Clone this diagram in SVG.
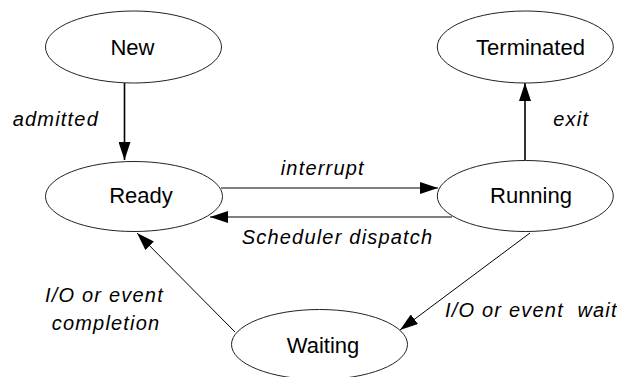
<svg xmlns="http://www.w3.org/2000/svg" width="617" height="377" viewBox="0 0 617 377">
<defs>
<style>
.node ellipse{fill:#fff;stroke:#222;stroke-width:1}
.node text{font-family:"Liberation Sans",Arial,sans-serif;font-size:22px;fill:#000;text-anchor:middle}
.edge{stroke:#000;fill:none;stroke-width:1}
.thick{stroke-width:1.6}
.lbl{font-family:"Liberation Sans",Arial,sans-serif;font-size:20px;font-style:italic;letter-spacing:1.2px;fill:#000}
</style>
<marker id="arr" markerUnits="userSpaceOnUse" markerWidth="18" markerHeight="12" refX="18" refY="6" orient="auto">
<path d="M0,0 L18,6 L0,12 z" fill="#000"/>
</marker>
</defs>
<rect width="617" height="377" fill="#fff"/>
<g id="connectors">
<line class="edge thick" x1="124.5" y1="83" x2="124.5" y2="160" marker-end="url(#arr)"/>
<line class="edge" x1="221" y1="188" x2="438" y2="188" marker-end="url(#arr)"/>
<line class="edge" x1="452" y1="217" x2="210" y2="217" marker-end="url(#arr)"/>
<line class="edge thick" x1="525" y1="160" x2="525" y2="83" marker-end="url(#arr)"/>
<line class="edge" x1="530" y1="233" x2="400" y2="330" marker-end="url(#arr)"/>
<line class="edge" x1="235" y1="332" x2="137" y2="233" marker-end="url(#arr)"/>
</g>
<g id="node-new" class="node">
<ellipse cx="133.5" cy="47" rx="88" ry="36"/>
<text x="132.5" y="55">New</text>
</g>
<g id="node-terminated" class="node">
<ellipse cx="525.3" cy="47" rx="88" ry="36"/>
<text x="530.5" y="55">Terminated</text>
</g>
<g id="node-ready" class="node">
<ellipse cx="134" cy="196.5" rx="88.5" ry="35"/>
<text x="141" y="203">Ready</text>
</g>
<g id="node-running" class="node">
<ellipse cx="525.3" cy="196" rx="88" ry="35.5"/>
<text x="531" y="202.5">Running</text>
</g>
<g id="node-waiting" class="node">
<ellipse cx="319.5" cy="344.5" rx="88" ry="35"/>
<text x="323" y="352.5">Waiting</text>
</g>
<g id="labels">
<text class="lbl" x="12.7" y="126">admitted</text>
<text class="lbl" x="553.3" y="126">exit</text>
<text class="lbl" x="280.7" y="175">interrupt</text>
<text class="lbl" x="241.7" y="244">Scheduler dispatch</text>
<text class="lbl" x="45" y="301.7">I/O or event</text>
<text class="lbl" x="51.7" y="330">completion</text>
<text class="lbl" x="445" y="316.7" xml:space="preserve">I/O or event  wait</text>
</g>
</svg>
